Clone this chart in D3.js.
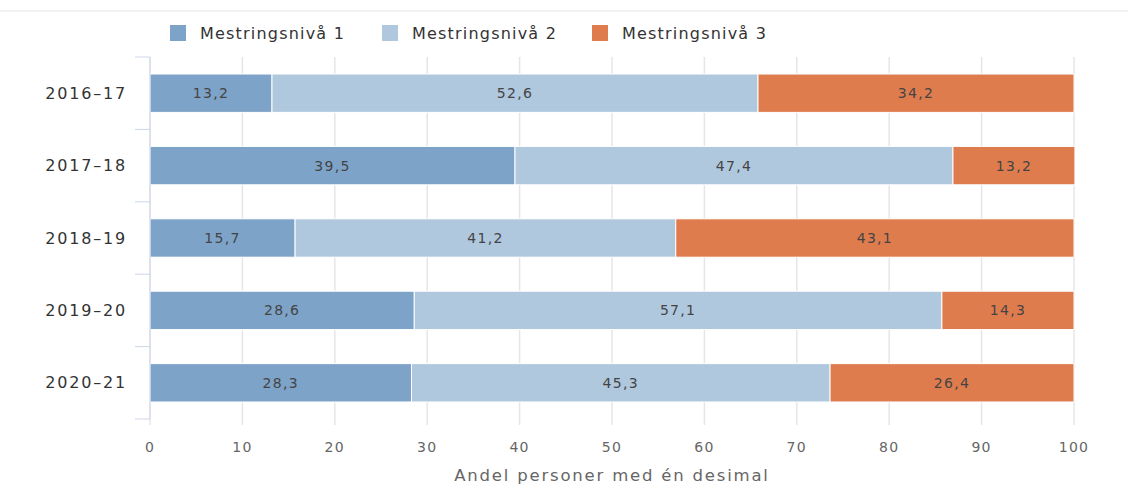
<!DOCTYPE html>
<html>
<head>
<meta charset="utf-8">
<script src="https://cdn.jsdelivr.net/npm/d3@7"></script>
<style>
  body { margin: 0; background: #fff; }
  text { font-family: "DejaVu Sans", sans-serif; }
</style>
</head>
<body>
<div id="chart"></div>
<script>
var years = ["2016–17", "2017–18", "2018–19", "2019–20", "2020–21"];
var seriesNames = ["Mestringsnivå 1", "Mestringsnivå 2", "Mestringsnivå 3"];
var level1 = [13.2, 39.5, 15.7, 28.6, 28.3];
var level2 = [52.6, 47.4, 41.2, 57.1, 45.3];
var level3 = [34.2, 13.2, 43.1, 14.3, 26.4];
var xTicks = [0, 10, 20, 30, 40, 50, 60, 70, 80, 90, 100];
var colors = ["#7ea3c8", "#b0c8de", "#df7c4e"];

var w = 1128, h = 489;
var plotLeft = 150, plotRight = 1074, plotTop = 57, plotBottom = 419;

var svg = d3.select("#chart").append("svg")
  .attr("width", w)
  .attr("height", h);

// faint top border
svg.append("rect")
  .attr("x", 0).attr("y", 10).attr("width", w).attr("height", 2)
  .attr("fill", "#f2f2f2");

var x = d3.scaleLinear().domain([0, 100]).range([plotLeft, plotRight]);
var y = d3.scaleBand().domain(years).range([plotTop, plotBottom]).paddingInner(0.47).paddingOuter(0.235);

// grid
svg.append("g").selectAll("line")
  .data(xTicks)
  .enter().append("line")
  .attr("x1", d => x(d)).attr("x2", d => x(d))
  .attr("y1", plotTop).attr("y2", 425)
  .attr("stroke", "#e6e6e6").attr("stroke-width", 1.5);

// stacked data
var rows = years.map((yr, i) => ({ year: yr, v: [level1[i], level2[i], level3[i]] }));
var segs = [];
rows.forEach(r => {
  var acc = 0;
  r.v.forEach((v, k) => {
    segs.push({ year: r.year, k: k, x0: acc, x1: acc + v, v: v });
    acc += v;
  });
});

svg.append("g").selectAll("rect")
  .data(segs)
  .enter().append("rect")
  .attr("x", d => x(d.x0))
  .attr("width", d => x(d.x1) - x(d.x0))
  .attr("y", d => y(d.year))
  .attr("height", y.bandwidth())
  .attr("fill", d => colors[d.k])
  .attr("stroke", "#fff")
  .attr("stroke-width", 1);

svg.append("g").selectAll("text")
  .data(segs)
  .enter().append("text")
  .attr("x", d => (x(d.x0) + x(d.x1)) / 2)
  .attr("y", d => y(d.year) + y.bandwidth() / 2)
  .attr("dy", "0.35em")
  .attr("text-anchor", "middle")
  .attr("font-size", 14)
  .attr("letter-spacing", 1.3)
  .attr("fill", "#444")
  .text(d => d3.format(".1f")(d.v).replace(".", ","));

// category axis
var cat = svg.append("g");
cat.append("line")
  .attr("x1", plotLeft).attr("x2", plotLeft)
  .attr("y1", plotTop).attr("y2", plotBottom)
  .attr("stroke", "#ccd6eb");
var bounds = [plotTop].concat(years.map(yr => y(yr) + y.bandwidth() + y.step() * y.paddingInner() / 2));
cat.selectAll("line.tick")
  .data(bounds)
  .enter().append("line")
  .attr("class", "tick")
  .attr("x1", 135).attr("x2", plotLeft)
  .attr("y1", d => d).attr("y2", d => d)
  .attr("stroke", "#ccd6eb");
cat.selectAll("text")
  .data(years)
  .enter().append("text")
  .attr("x", 127)
  .attr("y", d => y(d) + y.bandwidth() / 2)
  .attr("dy", "0.35em")
  .attr("text-anchor", "end")
  .attr("font-size", 16)
  .attr("letter-spacing", 1.8)
  .attr("fill", "#333")
  .text(d => d);

// value axis labels
svg.append("g").selectAll("text")
  .data(xTicks)
  .enter().append("text")
  .attr("x", d => x(d))
  .attr("y", 452)
  .attr("text-anchor", "middle")
  .attr("font-size", 14)
  .attr("letter-spacing", 1.3)
  .attr("fill", "#666")
  .text(d => d);

svg.append("text")
  .attr("x", (plotLeft + plotRight) / 2)
  .attr("y", 481)
  .attr("text-anchor", "middle")
  .attr("font-size", 16.5)
  .attr("letter-spacing", 1.8)
  .attr("fill", "#666")
  .text("Andel personer med én desimal");

// legend
var legX = [170, 382, 592];
var leg = svg.append("g").selectAll("g")
  .data(seriesNames)
  .enter().append("g")
  .attr("transform", (d, i) => "translate(" + legX[i] + ",25)");
leg.append("rect")
  .attr("width", 16).attr("height", 16)
  .attr("fill", (d, i) => colors[i]);
leg.append("text")
  .attr("x", 30).attr("y", 8)
  .attr("dy", "0.35em")
  .attr("font-size", 16)
  .attr("letter-spacing", 1.2)
  .attr("fill", "#333")
  .text(d => d);
</script>
</body>
</html>
